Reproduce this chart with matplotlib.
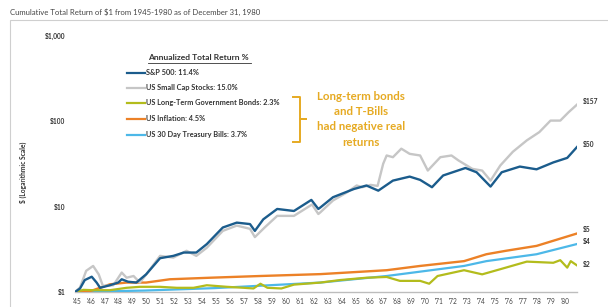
import matplotlib
matplotlib.use("Agg")
import matplotlib.pyplot as plt
from matplotlib.patches import Rectangle
from matplotlib.lines import Line2D

plt.rcParams['font.family'] = ['Lato', 'DejaVu Sans']

# ---------------- data ----------------
sp_t = [1945.0, 1945.36, 1945.7, 1946.2, 1946.55, 1946.8, 1947.5, 1948.1, 1948.35, 1948.8,
        1949.4, 1950.1, 1951.1, 1952.05, 1952.8, 1953.7, 1954.45, 1955.6, 1956.6, 1957.55,
        1957.9, 1958.5, 1959.5, 1960.7, 1961.95, 1962.45, 1962.6, 1963.5, 1965.0, 1965.9,
        1966.75, 1967.8, 1969.0, 1969.75, 1970.6, 1971.4, 1973.0, 1973.8, 1974.8, 1975.6,
        1976.9, 1978.1, 1979.3, 1980.3, 1981.0]
sp_v = [1.0, 1.1, 1.38, 1.51, 1.29, 1.12, 1.2, 1.29, 1.41, 1.32,
        1.29, 1.61, 2.49, 2.65, 2.9, 2.9, 3.64, 5.7, 6.5, 6.25,
        5.2, 7.1, 9.4, 8.9, 12.0, 9.4, 9.8, 12.9, 16.1, 17.7,
        15.4, 20.2, 22.5, 20.6, 16.9, 23.2, 28.4, 25.3, 17.2, 25.3,
        29.5, 27.4, 33.0, 37.3, 50.0]

sc_t = [1945.0, 1945.36, 1945.8, 1946.3, 1946.7, 1947.0, 1947.75, 1948.35, 1948.7, 1949.2,
        1949.65, 1950.1, 1951.1, 1952.05, 1953.0, 1953.7, 1954.45, 1955.6, 1956.6, 1957.55,
        1957.9, 1958.6, 1959.5, 1960.7, 1962.0, 1962.45, 1962.6, 1963.5, 1964.5, 1965.2,
        1965.6, 1966.2, 1966.7, 1967.1, 1967.35, 1967.8, 1968.4, 1969.0, 1969.75, 1970.3,
        1971.2, 1972.0, 1972.5, 1973.5, 1974.2, 1974.8, 1975.5, 1976.4, 1977.4, 1978.3,
        1979.1, 1979.8, 1980.4, 1981.0]
sc_v = [1.0, 1.13, 1.77, 2.02, 1.61, 1.18, 1.2, 1.69, 1.47, 1.54,
        1.29, 1.6, 2.65, 2.53, 3.04, 2.65, 3.3, 5.2, 6.0, 5.5,
        4.4, 5.7, 7.8, 7.8, 10.6, 8.2, 8.6, 11.8, 14.7, 17.7,
        16.9, 18.0, 17.5, 31.8, 39.8, 38.0, 47.8, 41.6, 39.8, 26.5,
        38.0, 39.8, 34.8, 27.7, 26.5, 20.2, 30.4, 44.0, 59.8, 74.8,
        102.0, 102.0, 128.0, 157.0]

bd_t = [1945.0, 1945.6, 1946.3, 1947.5, 1948.7, 1949.65, 1951.1, 1952.3, 1953.5, 1954.45,
        1955.9, 1957.1, 1957.8, 1958.3, 1958.8, 1959.8, 1960.7, 1962.6, 1964.0, 1965.9,
        1967.35, 1968.3, 1969.75, 1970.4, 1971.0, 1972.9, 1974.2, 1975.5, 1977.4, 1979.3,
        1979.8, 1980.3, 1980.55, 1981.0]
bd_v = [1.0, 1.06, 1.05, 1.05, 1.12, 1.15, 1.15, 1.12, 1.12, 1.2,
        1.15, 1.12, 1.1, 1.25, 1.12, 1.1, 1.22, 1.29, 1.38, 1.47,
        1.5, 1.35, 1.35, 1.25, 1.54, 1.8, 1.61, 1.85, 2.27, 2.2,
        2.36, 1.93, 2.3, 2.05]

inf_t = [1945.0, 1946.0, 1946.3, 1947.5, 1948.7, 1950.1, 1951.8, 1954.7, 1958.3, 1962.6,
         1967.35, 1969.75, 1972.9, 1974.5, 1975.9, 1978.1, 1981.0]
inf_v = [1.0, 1.02, 1.05, 1.23, 1.29, 1.29, 1.41, 1.47, 1.54, 1.62,
         1.8, 2.02, 2.3, 2.77, 3.04, 3.47, 4.85]

tb_t = [1945.0, 1950.0, 1955.0, 1962.6, 1967.35, 1972.9, 1974.5, 1978.1, 1981.0]
tb_v = [1.0, 1.04, 1.11, 1.29, 1.54, 2.02, 2.3, 2.77, 3.65]

legend_labels = ["S&P 500: 11.4%", "US Small Cap Stocks: 15.0%",
                 "US Long-Term Government Bonds: 2.3%", "US Inflation: 4.5%",
                 "US 30 Day Treasury Bills: 3.7%"]
end_labels = ["$50", "$157", "$2", "$5", "$4"]
year_labels = ["'%02d" % (y % 100) for y in range(1945, 1981)]
ytick_vals = [1, 10, 100, 1000]
ytick_labels = ["$1", "$10", "$100", "$1,000"]

colors = {"sp": "#1B5C8C", "sc": "#C6C6C6", "bd": "#B3BC1C", "inf": "#EC8127", "tb": "#4DB8E8"}
gold = "#E6AA22"

# ---------------- figure ----------------
W, H = 608, 307
fig = plt.figure(figsize=(W / 100, H / 100), dpi=100)
fig.patch.set_facecolor("white")

def fx(px):
    return px / W

def fy(py):
    return 1 - py / H

ax = fig.add_axes([fx(75), fy(292), fx(577) - fx(75), fy(36) - fy(292)])
ax.set_yscale("log")
ax.set_xlim(1945, 1981)
ax.set_ylim(1, 1000)

ax.plot(tb_t, tb_v, color=colors["tb"], lw=1.6, zorder=3)
ax.plot(inf_t, inf_v, color=colors["inf"], lw=1.7, zorder=3)
ax.plot(bd_t, bd_v, color=colors["bd"], lw=1.6, zorder=4)
ax.plot(sc_t, sc_v, color=colors["sc"], lw=1.7, zorder=5)
ax.plot(sp_t, sp_v, color=colors["sp"], lw=1.7, zorder=6)

# end labels
ends = [(sp_v[-1], end_labels[0], 0), (sc_v[-1], end_labels[1], 0), (bd_v[-1], end_labels[2], -1),
        (inf_v[-1], end_labels[3], 1), (tb_v[-1], end_labels[4], 0)]
for v, lab, dy in ends:
    ax.annotate(lab, xy=(1981, v), xytext=(4, dy + 2), textcoords="offset points",
                fontsize=4.8, fontweight="bold", color="#333333", va="center", ha="left",
                annotation_clip=False)

for s in ["top", "right", "left"]:
    ax.spines[s].set_visible(False)
ax.spines["bottom"].set_color("#BDBDBD")
ax.spines["bottom"].set_linewidth(1.0)

ax.set_xticks([y + 0.12 for y in range(1945, 1981)])
ax.set_xticklabels(year_labels, fontsize=4.7, color="#444444")
ax.set_yticks(ytick_vals)
ax.set_yticklabels(ytick_labels, fontsize=4.8, fontweight="bold", color="#333333")
ax.yaxis.set_minor_locator(matplotlib.ticker.NullLocator())
ax.tick_params(axis="both", length=0)
ax.tick_params(axis="y", pad=7)
ax.tick_params(axis="x", pad=4)

# frame
fig.patches.append(Rectangle((fx(10), -0.05), 1.2, fy(20) + 0.05, transform=fig.transFigure,
                             fill=False, edgecolor="#CFCFCF", lw=0.8))

# title
fig.text(fx(10), fy(12), "Cumulative Total Return of $1 from 1945-1980 as of December 31, 1980",
         fontsize=5.6, color="#444444", va="center", ha="left")

# y-axis label
fig.text(fx(23), fy(172), "$ (Logarithmic Scale)", rotation=90, fontsize=4.8,
         fontweight="bold", color="#333333", va="center", ha="center")

# legend
fig.text(fx(148), fy(58), "Annualized Total Return %", fontsize=6.1, fontweight="bold",
         color="#333333", va="center", ha="left")
fig.lines.append(Line2D([fx(148), fx(251)], [fy(63), fy(63)], transform=fig.transFigure,
                        color="#333333", lw=0.6))
leg_colors = [colors["sp"], colors["sc"], colors["bd"], colors["inf"], colors["tb"]]
leg_y = [72.5, 87.5, 103, 119, 134.5]
for lab, c, y in zip(legend_labels, leg_colors, leg_y):
    fig.lines.append(Line2D([fx(127), fx(145)], [fy(y), fy(y)], transform=fig.transFigure,
                            color=c, lw=1.6))
    fig.text(fx(146), fy(y), lab, fontsize=5.3, fontweight="bold", color="#333333",
             va="center", ha="left")

# brace
bx = [293, 300, 300, 306, 300, 300, 293]
by = [97, 97, 119, 119, 119, 142, 142]
fig.lines.append(Line2D([fx(x) for x in bx], [fy(y) for y in by], transform=fig.transFigure,
                        color=gold, lw=1.4, solid_joinstyle="round"))

# annotation text
for txt, y in zip(["Long-term bonds", "and T-Bills", "had negative real", "returns"],
                  [97, 112, 127, 142]):
    fig.text(fx(361), fy(y), txt, fontsize=8.3, fontweight="bold", color=gold,
             va="center", ha="center")

fig.savefig("out.png", dpi=100, facecolor="white")
